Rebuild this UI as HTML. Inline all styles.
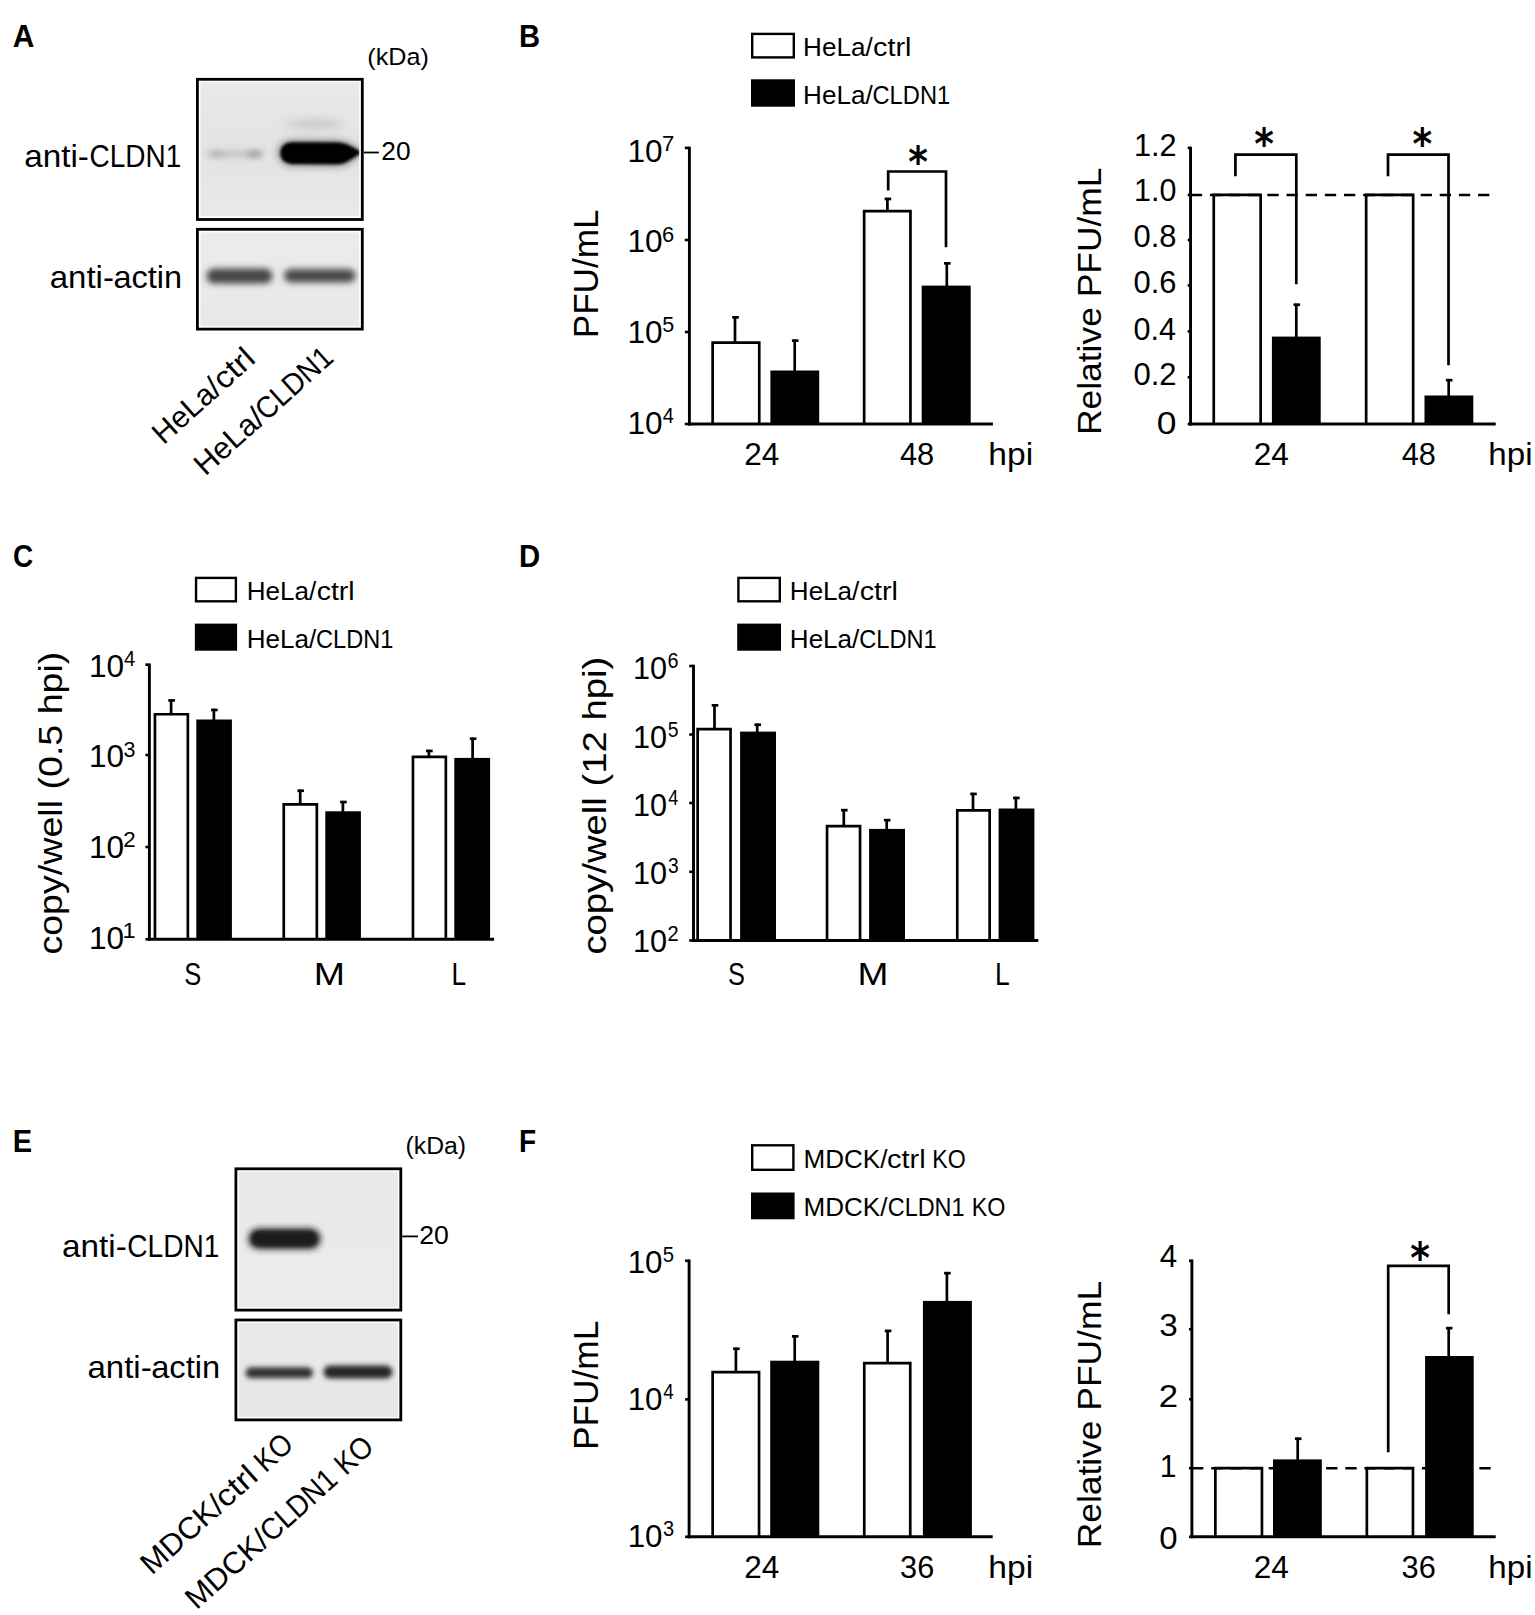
<!DOCTYPE html>
<html><head><meta charset="utf-8"><title>Figure</title>
<style>
html,body{margin:0;padding:0;background:#fff;}
svg{display:block;}
text{font-family:"Liberation Sans",sans-serif;fill:#000;}
</style></head><body>
<svg width="1535" height="1615" viewBox="0 0 1535 1615">
<defs>
<filter id="blur2" x="-20%" y="-100%" width="140%" height="300%"><feGaussianBlur stdDeviation="1.8"/></filter>
<filter id="blur25" x="-20%" y="-100%" width="140%" height="300%"><feGaussianBlur stdDeviation="2.4"/></filter>
<filter id="blur3" x="-30%" y="-200%" width="160%" height="500%"><feGaussianBlur stdDeviation="3"/></filter>
<filter id="blur4" x="-30%" y="-200%" width="160%" height="500%"><feGaussianBlur stdDeviation="4.5"/></filter>
<linearGradient id="bgA1" x1="0" y1="0" x2="0" y2="1"><stop offset="0" stop-color="#e9e9e9"/><stop offset="0.5" stop-color="#e3e3e3"/><stop offset="1" stop-color="#e9e9e9"/></linearGradient>
<linearGradient id="bgA2" x1="0" y1="0" x2="0" y2="1"><stop offset="0" stop-color="#ebebeb"/><stop offset="1" stop-color="#e8e8e8"/></linearGradient>
<linearGradient id="bgE1" x1="0" y1="0" x2="0" y2="1"><stop offset="0" stop-color="#e9e9e9"/><stop offset="1" stop-color="#ebebeb"/></linearGradient>
<linearGradient id="bgE2" x1="0" y1="0" x2="0" y2="1"><stop offset="0" stop-color="#e9e9e9"/><stop offset="1" stop-color="#e7e7e7"/></linearGradient>
</defs>

<rect width="1535" height="1615" fill="#fff"/>
<clipPath id="clipA1"><rect x="200.50" y="82.40" width="158.70" height="134.00"/></clipPath>
<rect x="200.50" y="82.40" width="158.70" height="134.00" fill="url(#bgA1)"/>
<g clip-path="url(#clipA1)">
<ellipse cx="236" cy="154" rx="27" ry="3.2" fill="#aaa" filter="url(#blur3)" opacity="0.6"/>
<ellipse cx="216" cy="154" rx="8" ry="3.0" fill="#999" filter="url(#blur3)" opacity="0.6"/>
<ellipse cx="255" cy="154" rx="8" ry="3.2" fill="#808080" filter="url(#blur3)" opacity="0.7"/>
<ellipse cx="315" cy="124" rx="30" ry="4" fill="#bbb" filter="url(#blur4)" opacity="0.8"/>
<path d="M279,153 C279,146 284,141.3 293,141.3 L338,141.6 C348,141.8 356,149.5 364,152.3 C356,155.5 348,165.2 338,165.3 L293,164.9 C284,164.9 279,160 279,153 Z" fill="#000" filter="url(#blur4)" opacity="0.55"/>
<path d="M280.5,153 C280.5,146.5 285,142.3 293,142.3 L338,142.6 C348,142.8 355,150 364,152.3 C355,155 348,164.2 338,164.3 L293,163.9 C285,163.9 280.5,159.5 280.5,153 Z" fill="#050505" filter="url(#blur2)"/>
</g>
<rect x="197.40" y="79.30" width="164.90" height="140.20" fill="none" stroke="#000" stroke-width="2.8"/>
<clipPath id="clipA2"><rect x="200.50" y="232.40" width="158.70" height="93.60"/></clipPath>
<rect x="200.50" y="232.40" width="158.70" height="93.60" fill="url(#bgA2)"/>
<g clip-path="url(#clipA2)">
<rect x="206.5" y="268.5" width="66" height="15" rx="7.5" ry="7.5" fill="#444" filter="url(#blur3)"/>
<rect x="284" y="269" width="71.5" height="13.5" rx="6.5" ry="6.5" fill="#484848" filter="url(#blur3)"/>
</g>
<rect x="197.40" y="229.30" width="164.90" height="99.80" fill="none" stroke="#000" stroke-width="2.8"/>
<line x1="363.70" y1="152.50" x2="378.80" y2="152.50" stroke="#000" stroke-width="1.8" />
<rect x="752.20" y="33.90" width="41.60" height="23.50" fill="#fff" stroke="#000" stroke-width="2.4"/>
<rect x="751" y="79.3" width="44" height="27.4" fill="#000"/>
<path d="M712.65,424.00 V342.55 H759.25 V424.00" fill="#fff" stroke="#000" stroke-width="2.7"/>
<line x1="735.00" y1="316.20" x2="735.00" y2="342.00" stroke="#000" stroke-width="2.7" />
<line x1="732.20" y1="317.35" x2="738.80" y2="317.35" stroke="#000" stroke-width="2.7" />
<rect x="770.40" y="370.50" width="48.80" height="53.50" fill="#000"/>
<line x1="794.70" y1="339.50" x2="794.70" y2="371.00" stroke="#000" stroke-width="2.7" />
<line x1="791.90" y1="340.65" x2="798.50" y2="340.65" stroke="#000" stroke-width="2.7" />
<path d="M864.15,424.00 V211.15 H910.45 V424.00" fill="#fff" stroke="#000" stroke-width="2.7"/>
<line x1="887.40" y1="197.80" x2="887.40" y2="210.00" stroke="#000" stroke-width="2.7" />
<line x1="884.60" y1="198.95" x2="891.20" y2="198.95" stroke="#000" stroke-width="2.7" />
<rect x="921.70" y="285.60" width="49.00" height="138.40" fill="#000"/>
<line x1="946.80" y1="262.20" x2="946.80" y2="286.00" stroke="#000" stroke-width="2.7" />
<line x1="944.00" y1="263.35" x2="950.60" y2="263.35" stroke="#000" stroke-width="2.7" />
<polyline points="888.20,190.50 888.20,171.50 946.00,171.50 946.00,247.20" fill="none" stroke="#000" stroke-width="2.7"/>
<path d="M1213.75,424.00 V194.90 H1260.65 V424.00" fill="#fff" stroke="#000" stroke-width="2.7"/>
<rect x="1271.90" y="336.60" width="48.80" height="87.40" fill="#000"/>
<line x1="1296.30" y1="303.60" x2="1296.30" y2="337.00" stroke="#000" stroke-width="2.7" />
<line x1="1293.50" y1="304.75" x2="1300.10" y2="304.75" stroke="#000" stroke-width="2.7" />
<path d="M1366.15,424.00 V194.90 H1413.15 V424.00" fill="#fff" stroke="#000" stroke-width="2.7"/>
<rect x="1424.50" y="395.50" width="48.80" height="28.50" fill="#000"/>
<line x1="1448.70" y1="379.00" x2="1448.70" y2="396.00" stroke="#000" stroke-width="2.7" />
<line x1="1445.90" y1="380.15" x2="1452.50" y2="380.15" stroke="#000" stroke-width="2.7" />
<line x1="1190.80" y1="194.90" x2="1490.00" y2="194.90" stroke="#000" stroke-width="2.5" stroke-dasharray="11.3 7.85"/>
<polyline points="1235.40,176.30 1235.40,154.70 1296.30,154.70 1296.30,284.20" fill="none" stroke="#000" stroke-width="2.7"/>
<polyline points="1388.00,176.30 1388.00,154.70 1448.50,154.70 1448.50,365.30" fill="none" stroke="#000" stroke-width="2.7"/>
<rect x="196.05" y="577.90" width="39.85" height="23.40" fill="#fff" stroke="#000" stroke-width="2.4"/>
<rect x="194.85" y="623.6" width="42.25" height="27.1" fill="#000"/>
<path d="M154.95,939.20 V714.25 H187.85 V939.20" fill="#fff" stroke="#000" stroke-width="2.7"/>
<line x1="171.10" y1="699.30" x2="171.10" y2="713.40" stroke="#000" stroke-width="2.7" />
<line x1="168.30" y1="700.45" x2="174.90" y2="700.45" stroke="#000" stroke-width="2.7" />
<rect x="196.30" y="719.50" width="35.60" height="219.70" fill="#000"/>
<line x1="213.90" y1="708.80" x2="213.90" y2="720.00" stroke="#000" stroke-width="2.7" />
<line x1="211.10" y1="709.95" x2="217.70" y2="709.95" stroke="#000" stroke-width="2.7" />
<path d="M283.75,939.20 V804.45 H316.85 V939.20" fill="#fff" stroke="#000" stroke-width="2.7"/>
<line x1="300.20" y1="789.60" x2="300.20" y2="803.60" stroke="#000" stroke-width="2.7" />
<line x1="297.40" y1="790.75" x2="304.00" y2="790.75" stroke="#000" stroke-width="2.7" />
<rect x="325.30" y="811.30" width="35.60" height="127.90" fill="#000"/>
<line x1="342.90" y1="800.90" x2="342.90" y2="811.80" stroke="#000" stroke-width="2.7" />
<line x1="340.10" y1="802.05" x2="346.70" y2="802.05" stroke="#000" stroke-width="2.7" />
<path d="M412.95,939.20 V756.85 H445.85 V939.20" fill="#fff" stroke="#000" stroke-width="2.7"/>
<line x1="428.90" y1="749.80" x2="428.90" y2="756.00" stroke="#000" stroke-width="2.7" />
<line x1="426.10" y1="750.95" x2="432.70" y2="750.95" stroke="#000" stroke-width="2.7" />
<rect x="454.30" y="757.90" width="35.80" height="181.30" fill="#000"/>
<line x1="472.60" y1="737.60" x2="472.60" y2="758.40" stroke="#000" stroke-width="2.7" />
<line x1="469.80" y1="738.75" x2="476.40" y2="738.75" stroke="#000" stroke-width="2.7" />
<rect x="738.40" y="577.90" width="41.40" height="23.40" fill="#fff" stroke="#000" stroke-width="2.4"/>
<rect x="737.2" y="623.6" width="43.8" height="27.1" fill="#000"/>
<path d="M697.65,940.50 V729.05 H730.55 V940.50" fill="#fff" stroke="#000" stroke-width="2.7"/>
<line x1="714.50" y1="704.20" x2="714.50" y2="728.20" stroke="#000" stroke-width="2.7" />
<line x1="711.70" y1="705.35" x2="718.30" y2="705.35" stroke="#000" stroke-width="2.7" />
<rect x="740.10" y="731.60" width="35.90" height="208.90" fill="#000"/>
<line x1="757.20" y1="723.60" x2="757.20" y2="732.10" stroke="#000" stroke-width="2.7" />
<line x1="754.40" y1="724.75" x2="761.00" y2="724.75" stroke="#000" stroke-width="2.7" />
<path d="M827.05,940.50 V826.05 H860.05 V940.50" fill="#fff" stroke="#000" stroke-width="2.7"/>
<line x1="843.80" y1="809.00" x2="843.80" y2="825.20" stroke="#000" stroke-width="2.7" />
<line x1="841.00" y1="810.15" x2="847.60" y2="810.15" stroke="#000" stroke-width="2.7" />
<rect x="869.10" y="828.90" width="35.90" height="111.60" fill="#000"/>
<line x1="886.70" y1="819.00" x2="886.70" y2="829.40" stroke="#000" stroke-width="2.7" />
<line x1="883.90" y1="820.15" x2="890.50" y2="820.15" stroke="#000" stroke-width="2.7" />
<path d="M957.25,940.50 V810.35 H989.65 V940.50" fill="#fff" stroke="#000" stroke-width="2.7"/>
<line x1="973.00" y1="792.80" x2="973.00" y2="809.50" stroke="#000" stroke-width="2.7" />
<line x1="970.20" y1="793.95" x2="976.80" y2="793.95" stroke="#000" stroke-width="2.7" />
<rect x="998.60" y="808.50" width="35.80" height="132.00" fill="#000"/>
<line x1="1015.90" y1="796.80" x2="1015.90" y2="809.00" stroke="#000" stroke-width="2.7" />
<line x1="1013.10" y1="797.95" x2="1019.70" y2="797.95" stroke="#000" stroke-width="2.7" />
<clipPath id="clipE1"><rect x="238.90" y="1171.80" width="158.90" height="135.30"/></clipPath>
<rect x="238.90" y="1171.80" width="158.90" height="135.30" fill="url(#bgE1)"/>
<g clip-path="url(#clipE1)">
<rect x="248.5" y="1228.5" width="72" height="20.5" rx="10" ry="10" fill="#1c1c1c" filter="url(#blur3)"/>
<rect x="252" y="1231.5" width="64" height="14" rx="7" ry="7" fill="#1a1a1a" filter="url(#blur2)" opacity="0.7"/>
</g>
<rect x="235.90" y="1168.80" width="164.90" height="141.30" fill="none" stroke="#000" stroke-width="2.8"/>
<clipPath id="clipE2"><rect x="238.90" y="1323.00" width="158.90" height="93.90"/></clipPath>
<rect x="238.90" y="1323.00" width="158.90" height="93.90" fill="url(#bgE2)"/>
<g clip-path="url(#clipE2)">
<rect x="245.5" y="1367.3" width="67.5" height="11" rx="5.5" ry="5.5" fill="#303030" filter="url(#blur25)"/>
<rect x="323.5" y="1365.5" width="69" height="13" rx="6.5" ry="6.5" fill="#262626" filter="url(#blur25)"/>
</g>
<rect x="235.90" y="1320.00" width="164.90" height="99.90" fill="none" stroke="#000" stroke-width="2.8"/>
<line x1="402.20" y1="1236.40" x2="418.00" y2="1236.40" stroke="#000" stroke-width="1.8" />
<rect x="752.20" y="1145.30" width="41.20" height="24.50" fill="#fff" stroke="#000" stroke-width="2.4"/>
<rect x="751" y="1192.5" width="43.6" height="26.8" fill="#000"/>
<path d="M712.65,1536.80 V1372.15 H759.05 V1536.80" fill="#fff" stroke="#000" stroke-width="2.7"/>
<line x1="735.90" y1="1347.60" x2="735.90" y2="1371.30" stroke="#000" stroke-width="2.7" />
<line x1="733.10" y1="1348.75" x2="739.70" y2="1348.75" stroke="#000" stroke-width="2.7" />
<rect x="770.20" y="1360.70" width="49.10" height="176.10" fill="#000"/>
<line x1="794.70" y1="1335.20" x2="794.70" y2="1361.20" stroke="#000" stroke-width="2.7" />
<line x1="791.90" y1="1336.35" x2="798.50" y2="1336.35" stroke="#000" stroke-width="2.7" />
<path d="M864.25,1536.80 V1363.05 H910.25 V1536.80" fill="#fff" stroke="#000" stroke-width="2.7"/>
<line x1="887.60" y1="1329.80" x2="887.60" y2="1362.20" stroke="#000" stroke-width="2.7" />
<line x1="884.80" y1="1330.95" x2="891.40" y2="1330.95" stroke="#000" stroke-width="2.7" />
<rect x="922.90" y="1300.90" width="49.00" height="235.90" fill="#000"/>
<line x1="946.90" y1="1272.00" x2="946.90" y2="1301.40" stroke="#000" stroke-width="2.7" />
<line x1="944.10" y1="1273.15" x2="950.70" y2="1273.15" stroke="#000" stroke-width="2.7" />
<path d="M1215.35,1536.80 V1468.20 H1261.95 V1536.80" fill="#fff" stroke="#000" stroke-width="2.7"/>
<rect x="1273.00" y="1459.40" width="48.80" height="77.40" fill="#000"/>
<line x1="1297.70" y1="1437.60" x2="1297.70" y2="1460.00" stroke="#000" stroke-width="2.7" />
<line x1="1294.90" y1="1438.75" x2="1301.50" y2="1438.75" stroke="#000" stroke-width="2.7" />
<path d="M1366.85,1536.80 V1468.20 H1412.95 V1536.80" fill="#fff" stroke="#000" stroke-width="2.7"/>
<rect x="1425.10" y="1356.00" width="48.60" height="180.80" fill="#000"/>
<line x1="1448.70" y1="1327.00" x2="1448.70" y2="1357.00" stroke="#000" stroke-width="2.7" />
<line x1="1445.90" y1="1328.15" x2="1452.50" y2="1328.15" stroke="#000" stroke-width="2.7" />
<line x1="1192.10" y1="1468.20" x2="1491.30" y2="1468.20" stroke="#000" stroke-width="2.5" stroke-dasharray="11.3 7.85"/>
<polyline points="1388.20,1452.30 1388.20,1265.90 1448.70,1265.90 1448.70,1314.30" fill="none" stroke="#000" stroke-width="2.7"/>
<line x1="689.40" y1="146.65" x2="689.40" y2="425.45" stroke="#000" stroke-width="2.9" />
<line x1="687.95" y1="424.00" x2="992.90" y2="424.00" stroke="#000" stroke-width="2.9" />
<line x1="684.80" y1="147.90" x2="689.40" y2="147.90" stroke="#000" stroke-width="2.6" />
<line x1="684.80" y1="240.00" x2="689.40" y2="240.00" stroke="#000" stroke-width="2.6" />
<line x1="684.80" y1="332.00" x2="689.40" y2="332.00" stroke="#000" stroke-width="2.6" />
<line x1="684.80" y1="424.00" x2="689.40" y2="424.00" stroke="#000" stroke-width="2.6" />
<line x1="1190.55" y1="146.65" x2="1190.55" y2="425.45" stroke="#000" stroke-width="2.9" />
<line x1="1189.10" y1="424.00" x2="1495.70" y2="424.00" stroke="#000" stroke-width="2.9" />
<line x1="1187.65" y1="147.90" x2="1190.55" y2="147.90" stroke="#000" stroke-width="2.6" />
<line x1="1187.65" y1="194.90" x2="1190.55" y2="194.90" stroke="#000" stroke-width="2.6" />
<line x1="1187.65" y1="240.00" x2="1190.55" y2="240.00" stroke="#000" stroke-width="2.6" />
<line x1="1187.65" y1="285.40" x2="1190.55" y2="285.40" stroke="#000" stroke-width="2.6" />
<line x1="1187.65" y1="331.40" x2="1190.55" y2="331.40" stroke="#000" stroke-width="2.6" />
<line x1="1187.65" y1="377.20" x2="1190.55" y2="377.20" stroke="#000" stroke-width="2.6" />
<line x1="1187.65" y1="424.00" x2="1190.55" y2="424.00" stroke="#000" stroke-width="2.6" />
<line x1="149.40" y1="663.45" x2="149.40" y2="940.65" stroke="#000" stroke-width="2.9" />
<line x1="147.95" y1="939.20" x2="494.10" y2="939.20" stroke="#000" stroke-width="2.9" />
<line x1="145.40" y1="664.70" x2="149.40" y2="664.70" stroke="#000" stroke-width="2.6" />
<line x1="145.40" y1="755.00" x2="149.40" y2="755.00" stroke="#000" stroke-width="2.6" />
<line x1="145.40" y1="847.00" x2="149.40" y2="847.00" stroke="#000" stroke-width="2.6" />
<line x1="145.40" y1="939.20" x2="149.40" y2="939.20" stroke="#000" stroke-width="2.6" />
<line x1="693.50" y1="664.75" x2="693.50" y2="941.95" stroke="#000" stroke-width="2.9" />
<line x1="692.05" y1="940.50" x2="1038.30" y2="940.50" stroke="#000" stroke-width="2.9" />
<line x1="689.20" y1="666.00" x2="693.50" y2="666.00" stroke="#000" stroke-width="2.6" />
<line x1="689.20" y1="734.50" x2="693.50" y2="734.50" stroke="#000" stroke-width="2.6" />
<line x1="689.20" y1="803.00" x2="693.50" y2="803.00" stroke="#000" stroke-width="2.6" />
<line x1="689.20" y1="871.80" x2="693.50" y2="871.80" stroke="#000" stroke-width="2.6" />
<line x1="689.20" y1="940.50" x2="693.50" y2="940.50" stroke="#000" stroke-width="2.6" />
<line x1="689.10" y1="1259.55" x2="689.10" y2="1538.25" stroke="#000" stroke-width="2.9" />
<line x1="687.65" y1="1536.80" x2="992.70" y2="1536.80" stroke="#000" stroke-width="2.9" />
<line x1="685.10" y1="1260.80" x2="689.10" y2="1260.80" stroke="#000" stroke-width="2.6" />
<line x1="685.10" y1="1399.40" x2="689.10" y2="1399.40" stroke="#000" stroke-width="2.6" />
<line x1="685.10" y1="1536.80" x2="689.10" y2="1536.80" stroke="#000" stroke-width="2.6" />
<line x1="1191.90" y1="1259.55" x2="1191.90" y2="1538.25" stroke="#000" stroke-width="2.9" />
<line x1="1190.45" y1="1536.80" x2="1495.70" y2="1536.80" stroke="#000" stroke-width="2.9" />
<line x1="1189.00" y1="1260.80" x2="1191.90" y2="1260.80" stroke="#000" stroke-width="2.6" />
<line x1="1189.00" y1="1329.20" x2="1191.90" y2="1329.20" stroke="#000" stroke-width="2.6" />
<line x1="1189.00" y1="1399.20" x2="1191.90" y2="1399.20" stroke="#000" stroke-width="2.6" />
<line x1="1189.00" y1="1468.20" x2="1191.90" y2="1468.20" stroke="#000" stroke-width="2.6" />
<line x1="1189.00" y1="1536.80" x2="1191.90" y2="1536.80" stroke="#000" stroke-width="2.6" />
<text x="12.70" y="46.95" font-size="30.81" font-weight="bold" textLength="21.67" lengthAdjust="spacingAndGlyphs">A</text>
<text x="519.10" y="46.95" font-size="30.81" font-weight="bold" textLength="21.08" lengthAdjust="spacingAndGlyphs">B</text>
<text x="12.98" y="566.90" font-size="30.81" font-weight="bold" textLength="20.18" lengthAdjust="spacingAndGlyphs">C</text>
<text x="519.09" y="566.95" font-size="30.81" font-weight="bold" textLength="21.20" lengthAdjust="spacingAndGlyphs">D</text>
<text x="12.71" y="1152.40" font-size="30.81" font-weight="bold" textLength="19.36" lengthAdjust="spacingAndGlyphs">E</text>
<text x="519.08" y="1152.40" font-size="30.81" font-weight="bold" textLength="17.13" lengthAdjust="spacingAndGlyphs">F</text>
<text x="367.39" y="64.90" font-size="24.71" textLength="61.47" lengthAdjust="spacingAndGlyphs">(kDa)</text>
<text x="381.28" y="159.80" font-size="25.44" textLength="29.27" lengthAdjust="spacingAndGlyphs">20</text>
<text y="166.50" font-size="30.52" xml:space="preserve"><tspan x="24.17" textLength="64.76" lengthAdjust="spacingAndGlyphs">anti-</tspan><tspan x="89.50" textLength="91.79" lengthAdjust="spacingAndGlyphs">CLDN1</tspan></text>
<text y="288.00" font-size="30.52" xml:space="preserve"><tspan x="49.68" textLength="64.24" lengthAdjust="spacingAndGlyphs">anti-</tspan><tspan x="113.40" textLength="68.58" lengthAdjust="spacingAndGlyphs">actin</tspan></text>
<text transform="translate(165.30,443.80) rotate(-42)" y="0.00" font-size="30.52" xml:space="preserve"><tspan x="-2.42" textLength="80.86" lengthAdjust="spacingAndGlyphs">HeLa/</tspan><tspan x="78.86" textLength="44.73" lengthAdjust="spacingAndGlyphs">ctrl</tspan></text>
<text transform="translate(207.00,475.20) rotate(-42)" y="0.00" font-size="30.52" xml:space="preserve"><tspan x="-2.48" textLength="82.61" lengthAdjust="spacingAndGlyphs">HeLa/</tspan><tspan x="79.99" textLength="92.31" lengthAdjust="spacingAndGlyphs">CLDN1</tspan></text>
<text y="55.95" font-size="25.58" xml:space="preserve"><tspan x="803.12" textLength="69.53" lengthAdjust="spacingAndGlyphs">HeLa/</tspan><tspan x="873.05" textLength="38.45" lengthAdjust="spacingAndGlyphs">ctrl</tspan></text>
<text y="103.90" font-size="25.58" xml:space="preserve"><tspan x="803.12" textLength="69.53" lengthAdjust="spacingAndGlyphs">HeLa/</tspan><tspan x="872.52" textLength="77.68" lengthAdjust="spacingAndGlyphs">CLDN1</tspan></text>
<text><tspan x="627.53" y="161.70" font-size="31.40" textLength="35.11" lengthAdjust="spacingAndGlyphs">10</tspan><tspan x="661.99" y="150.80" font-size="22.09" textLength="12.33" lengthAdjust="spacingAndGlyphs">7</tspan></text>
<text><tspan x="627.53" y="252.40" font-size="31.40" textLength="35.11" lengthAdjust="spacingAndGlyphs">10</tspan><tspan x="662.00" y="241.50" font-size="22.09" textLength="12.20" lengthAdjust="spacingAndGlyphs">6</tspan></text>
<text><tspan x="627.53" y="343.00" font-size="31.40" textLength="35.11" lengthAdjust="spacingAndGlyphs">10</tspan><tspan x="662.24" y="332.10" font-size="22.09" textLength="11.94" lengthAdjust="spacingAndGlyphs">5</tspan></text>
<text><tspan x="627.53" y="433.70" font-size="31.40" textLength="35.11" lengthAdjust="spacingAndGlyphs">10</tspan><tspan x="662.70" y="422.80" font-size="22.09" textLength="11.12" lengthAdjust="spacingAndGlyphs">4</tspan></text>
<text transform="translate(598.20,335.50) rotate(-90)" x="-2.81" y="0" font-size="35.76" textLength="128.80" lengthAdjust="spacingAndGlyphs">PFU/mL</text>
<text x="908.15" y="177.04" font-size="43.01" font-weight="bold" textLength="19.62" lengthAdjust="spacingAndGlyphs" style="font-family:'DejaVu Sans',sans-serif">*</text>
<text x="744.22" y="464.70" font-size="30.52" textLength="35.10" lengthAdjust="spacingAndGlyphs">24</text>
<text x="899.98" y="464.70" font-size="30.52" textLength="34.28" lengthAdjust="spacingAndGlyphs">48</text>
<text x="988.32" y="464.70" font-size="30.52" textLength="44.84" lengthAdjust="spacingAndGlyphs">hpi</text>
<text x="1134.00" y="155.90" font-size="30.52" textLength="42.61" lengthAdjust="spacingAndGlyphs">1.2</text>
<text x="1134.02" y="201.00" font-size="30.52" textLength="42.28" lengthAdjust="spacingAndGlyphs">1.0</text>
<text x="1133.52" y="247.00" font-size="30.52" textLength="42.95" lengthAdjust="spacingAndGlyphs">0.8</text>
<text x="1133.52" y="293.20" font-size="30.52" textLength="42.95" lengthAdjust="spacingAndGlyphs">0.6</text>
<text x="1133.53" y="339.50" font-size="30.52" textLength="42.47" lengthAdjust="spacingAndGlyphs">0.4</text>
<text x="1133.51" y="385.40" font-size="30.52" textLength="43.12" lengthAdjust="spacingAndGlyphs">0.2</text>
<text x="1156.76" y="433.80" font-size="30.52" textLength="19.72" lengthAdjust="spacingAndGlyphs">0</text>
<text transform="translate(1101.20,432.20) rotate(-90)" x="-2.83" y="0" font-size="33.87" textLength="267.53" lengthAdjust="spacingAndGlyphs">Relative PFU/mL</text>
<text x="1254.25" y="159.04" font-size="43.01" font-weight="bold" textLength="19.62" lengthAdjust="spacingAndGlyphs" style="font-family:'DejaVu Sans',sans-serif">*</text>
<text x="1412.45" y="159.04" font-size="43.01" font-weight="bold" textLength="19.62" lengthAdjust="spacingAndGlyphs" style="font-family:'DejaVu Sans',sans-serif">*</text>
<text x="1253.72" y="464.70" font-size="30.52" textLength="35.10" lengthAdjust="spacingAndGlyphs">24</text>
<text x="1401.69" y="464.70" font-size="30.52" textLength="34.18" lengthAdjust="spacingAndGlyphs">48</text>
<text x="1488.35" y="464.70" font-size="30.52" textLength="44.18" lengthAdjust="spacingAndGlyphs">hpi</text>
<text y="599.70" font-size="25.58" xml:space="preserve"><tspan x="246.72" textLength="69.53" lengthAdjust="spacingAndGlyphs">HeLa/</tspan><tspan x="316.66" textLength="38.01" lengthAdjust="spacingAndGlyphs">ctrl</tspan></text>
<text y="647.50" font-size="25.58" xml:space="preserve"><tspan x="246.72" textLength="69.53" lengthAdjust="spacingAndGlyphs">HeLa/</tspan><tspan x="316.12" textLength="77.16" lengthAdjust="spacingAndGlyphs">CLDN1</tspan></text>
<text><tspan x="88.93" y="676.80" font-size="31.40" textLength="35.11" lengthAdjust="spacingAndGlyphs">10</tspan><tspan x="123.90" y="665.90" font-size="22.09" textLength="11.23" lengthAdjust="spacingAndGlyphs">4</tspan></text>
<text><tspan x="88.93" y="767.40" font-size="31.40" textLength="35.11" lengthAdjust="spacingAndGlyphs">10</tspan><tspan x="123.55" y="756.50" font-size="22.09" textLength="11.93" lengthAdjust="spacingAndGlyphs">3</tspan></text>
<text><tspan x="88.93" y="858.00" font-size="31.40" textLength="35.11" lengthAdjust="spacingAndGlyphs">10</tspan><tspan x="123.18" y="847.10" font-size="22.09" textLength="12.45" lengthAdjust="spacingAndGlyphs">2</tspan></text>
<text><tspan x="88.93" y="948.60" font-size="31.40" textLength="35.11" lengthAdjust="spacingAndGlyphs">10</tspan><tspan x="122.52" y="937.70" font-size="22.09" textLength="13.17" lengthAdjust="spacingAndGlyphs">1</tspan></text>
<text transform="translate(62.40,953.10) rotate(-90)" x="-1.50" y="0" font-size="34.01" textLength="302.98" lengthAdjust="spacingAndGlyphs">copy/well (0.5 hpi)</text>
<text x="184.35" y="985.40" font-size="30.52" textLength="17.02" lengthAdjust="spacingAndGlyphs">S</text>
<text x="313.80" y="985.40" font-size="30.52" textLength="31.22" lengthAdjust="spacingAndGlyphs">M</text>
<text x="451.40" y="985.40" font-size="30.52" textLength="14.62" lengthAdjust="spacingAndGlyphs">L</text>
<text y="599.70" font-size="25.58" xml:space="preserve"><tspan x="789.82" textLength="69.53" lengthAdjust="spacingAndGlyphs">HeLa/</tspan><tspan x="859.75" textLength="38.23" lengthAdjust="spacingAndGlyphs">ctrl</tspan></text>
<text y="647.50" font-size="25.58" xml:space="preserve"><tspan x="789.82" textLength="69.53" lengthAdjust="spacingAndGlyphs">HeLa/</tspan><tspan x="859.22" textLength="77.37" lengthAdjust="spacingAndGlyphs">CLDN1</tspan></text>
<text><tspan x="632.90" y="679.20" font-size="31.40" textLength="34.11" lengthAdjust="spacingAndGlyphs">10</tspan><tspan x="667.61" y="668.30" font-size="22.09" textLength="11.00" lengthAdjust="spacingAndGlyphs">6</tspan></text>
<text><tspan x="632.90" y="748.10" font-size="31.40" textLength="34.11" lengthAdjust="spacingAndGlyphs">10</tspan><tspan x="667.83" y="737.20" font-size="22.09" textLength="10.77" lengthAdjust="spacingAndGlyphs">5</tspan></text>
<text><tspan x="632.90" y="816.20" font-size="31.40" textLength="34.11" lengthAdjust="spacingAndGlyphs">10</tspan><tspan x="668.24" y="805.30" font-size="22.09" textLength="10.03" lengthAdjust="spacingAndGlyphs">4</tspan></text>
<text><tspan x="632.90" y="884.30" font-size="31.40" textLength="34.11" lengthAdjust="spacingAndGlyphs">10</tspan><tspan x="667.93" y="873.40" font-size="22.09" textLength="10.66" lengthAdjust="spacingAndGlyphs">3</tspan></text>
<text><tspan x="632.90" y="951.90" font-size="31.40" textLength="34.11" lengthAdjust="spacingAndGlyphs">10</tspan><tspan x="667.60" y="941.00" font-size="22.09" textLength="11.12" lengthAdjust="spacingAndGlyphs">2</tspan></text>
<text transform="translate(606.40,953.10) rotate(-90)" x="-1.53" y="0" font-size="34.01" textLength="297.85" lengthAdjust="spacingAndGlyphs">copy/well (12 hpi)</text>
<text x="728.06" y="985.40" font-size="30.52" textLength="16.90" lengthAdjust="spacingAndGlyphs">S</text>
<text x="857.64" y="985.40" font-size="30.52" textLength="30.85" lengthAdjust="spacingAndGlyphs">M</text>
<text x="995.08" y="985.40" font-size="30.52" textLength="14.75" lengthAdjust="spacingAndGlyphs">L</text>
<text x="405.51" y="1154.20" font-size="24.56" textLength="60.63" lengthAdjust="spacingAndGlyphs">(kDa)</text>
<text x="419.17" y="1244.40" font-size="25.44" textLength="29.59" lengthAdjust="spacingAndGlyphs">20</text>
<text y="1256.50" font-size="30.52" xml:space="preserve"><tspan x="61.97" textLength="64.76" lengthAdjust="spacingAndGlyphs">anti-</tspan><tspan x="127.30" textLength="92.10" lengthAdjust="spacingAndGlyphs">CLDN1</tspan></text>
<text y="1378.40" font-size="30.52" xml:space="preserve"><tspan x="87.48" textLength="64.24" lengthAdjust="spacingAndGlyphs">anti-</tspan><tspan x="151.20" textLength="68.90" lengthAdjust="spacingAndGlyphs">actin</tspan></text>
<text transform="translate(153.70,1574.10) rotate(-42)" y="0.00" font-size="30.52" xml:space="preserve"><tspan x="-2.48" textLength="99.81" lengthAdjust="spacingAndGlyphs">MDCK/</tspan><tspan x="96.83" textLength="55.36" lengthAdjust="spacingAndGlyphs">ctrl </tspan><tspan x="150.49" textLength="39.82" lengthAdjust="spacingAndGlyphs">KO</tspan></text>
<text transform="translate(198.40,1608.80) rotate(-42)" y="0.00" font-size="30.52" xml:space="preserve"><tspan x="-2.48" textLength="100.02" lengthAdjust="spacingAndGlyphs">MDCK/</tspan><tspan x="97.90" textLength="99.35" lengthAdjust="spacingAndGlyphs">CLDN1 </tspan><tspan x="198.18" textLength="40.15" lengthAdjust="spacingAndGlyphs">KO</tspan></text>
<text y="1168.30" font-size="25.58" xml:space="preserve"><tspan x="803.52" textLength="83.93" lengthAdjust="spacingAndGlyphs">MDCK/</tspan><tspan x="887.04" textLength="46.59" lengthAdjust="spacingAndGlyphs">ctrl </tspan><tspan x="932.25" textLength="33.46" lengthAdjust="spacingAndGlyphs">KO</tspan></text>
<text y="1216.00" font-size="25.58" xml:space="preserve"><tspan x="803.52" textLength="83.93" lengthAdjust="spacingAndGlyphs">MDCK/</tspan><tspan x="887.73" textLength="83.37" lengthAdjust="spacingAndGlyphs">CLDN1 </tspan><tspan x="971.84" textLength="33.68" lengthAdjust="spacingAndGlyphs">KO</tspan></text>
<text><tspan x="627.65" y="1272.80" font-size="31.40" textLength="34.89" lengthAdjust="spacingAndGlyphs">10</tspan><tspan x="662.79" y="1261.90" font-size="22.09" textLength="11.24" lengthAdjust="spacingAndGlyphs">5</tspan></text>
<text><tspan x="627.65" y="1410.30" font-size="31.40" textLength="34.89" lengthAdjust="spacingAndGlyphs">10</tspan><tspan x="663.22" y="1399.40" font-size="22.09" textLength="10.47" lengthAdjust="spacingAndGlyphs">4</tspan></text>
<text><tspan x="627.65" y="1546.50" font-size="31.40" textLength="34.89" lengthAdjust="spacingAndGlyphs">10</tspan><tspan x="662.90" y="1535.60" font-size="22.09" textLength="11.12" lengthAdjust="spacingAndGlyphs">3</tspan></text>
<text transform="translate(598.20,1447.20) rotate(-90)" x="-2.82" y="0" font-size="35.76" textLength="129.32" lengthAdjust="spacingAndGlyphs">PFU/mL</text>
<text x="744.22" y="1577.70" font-size="30.52" textLength="35.10" lengthAdjust="spacingAndGlyphs">24</text>
<text x="900.13" y="1577.70" font-size="30.52" textLength="34.14" lengthAdjust="spacingAndGlyphs">36</text>
<text x="988.32" y="1577.70" font-size="30.52" textLength="44.84" lengthAdjust="spacingAndGlyphs">hpi</text>
<text x="1159.87" y="1267.20" font-size="30.52" textLength="17.45" lengthAdjust="spacingAndGlyphs">4</text>
<text x="1159.33" y="1336.30" font-size="30.52" textLength="18.54" lengthAdjust="spacingAndGlyphs">3</text>
<text x="1158.76" y="1406.50" font-size="30.52" textLength="19.34" lengthAdjust="spacingAndGlyphs">2</text>
<text x="1159.84" y="1477.10" font-size="30.52" textLength="16.75" lengthAdjust="spacingAndGlyphs">1</text>
<text x="1159.35" y="1548.60" font-size="30.52" textLength="18.35" lengthAdjust="spacingAndGlyphs">0</text>
<text transform="translate(1101.20,1545.50) rotate(-90)" x="-2.83" y="0" font-size="33.87" textLength="267.43" lengthAdjust="spacingAndGlyphs">Relative PFU/mL</text>
<text x="1410.15" y="1272.52" font-size="42.58" font-weight="bold" textLength="19.62" lengthAdjust="spacingAndGlyphs" style="font-family:'DejaVu Sans',sans-serif">*</text>
<text x="1253.72" y="1577.70" font-size="30.52" textLength="35.10" lengthAdjust="spacingAndGlyphs">24</text>
<text x="1401.62" y="1577.70" font-size="30.52" textLength="34.24" lengthAdjust="spacingAndGlyphs">36</text>
<text x="1488.35" y="1577.70" font-size="30.52" textLength="44.18" lengthAdjust="spacingAndGlyphs">hpi</text>
</svg>
</body></html>
